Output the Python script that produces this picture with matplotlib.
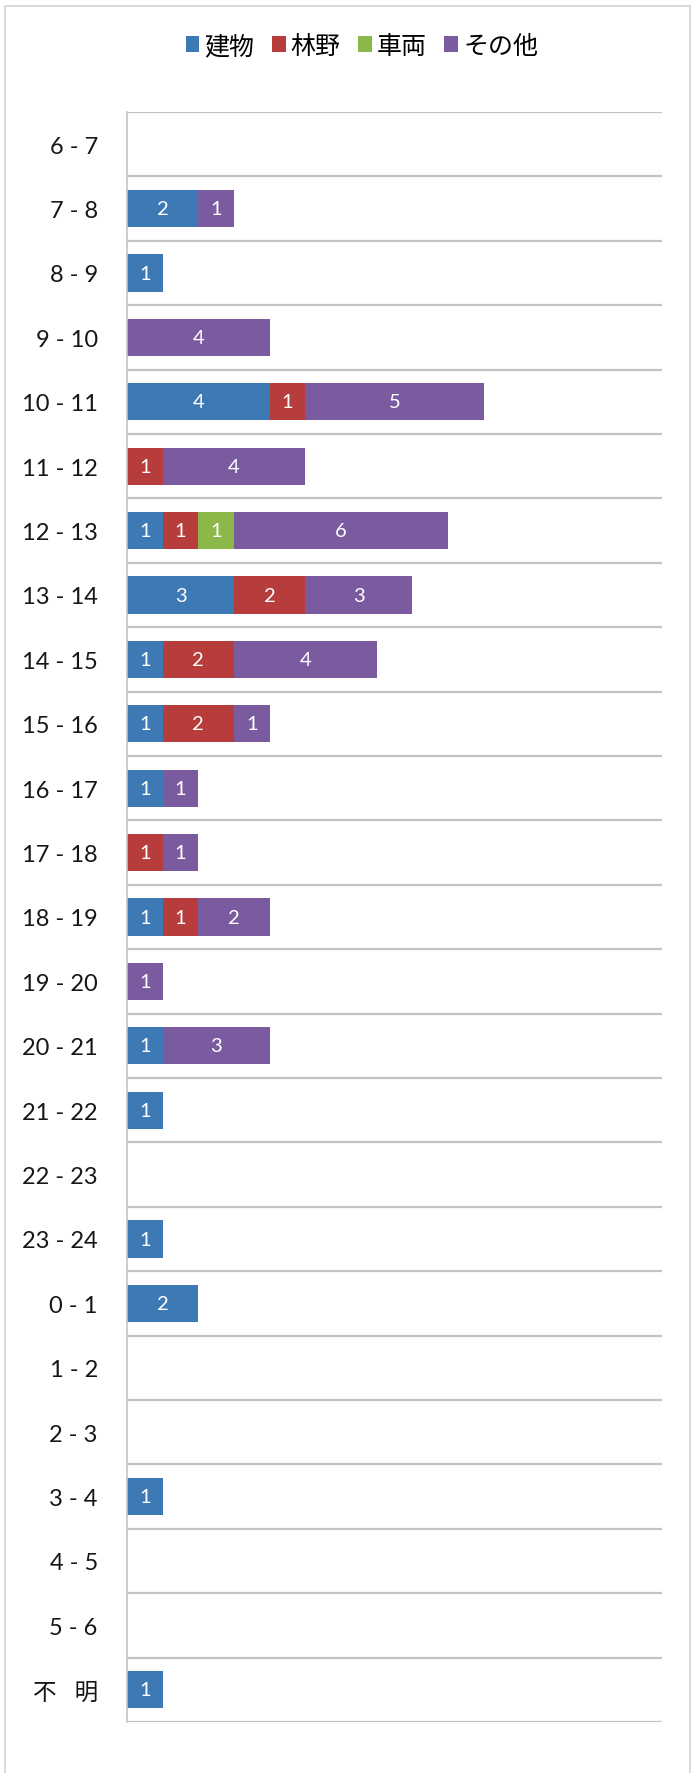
import matplotlib
matplotlib.use("Agg")
import matplotlib.pyplot as plt
from matplotlib.patches import Rectangle
import numpy as np

plt.rcParams['font.family'] = ['Lato', 'Noto Sans CJK JP', 'DejaVu Sans']

# Hour bands, top to bottom
categories = ["6 - 7", "7 - 8", "8 - 9", "9 - 10", "10 - 11", "11 - 12",
              "12 - 13", "13 - 14", "14 - 15", "15 - 16", "16 - 17", "17 - 18",
              "18 - 19", "19 - 20", "20 - 21", "21 - 22", "22 - 23", "23 - 24",
              "0 - 1", "1 - 2", "2 - 3", "3 - 4", "4 - 5", "5 - 6", "不   明"]

series_names = ["建物", "林野", "車両", "その他"]
building = [0, 2, 1, 0, 4, 0, 1, 3, 1, 1, 1, 0, 1, 0, 1, 1, 0, 1, 2, 0, 0, 1, 0, 0, 1]
forest   = [0, 0, 0, 0, 1, 1, 1, 2, 2, 2, 0, 1, 1, 0, 0, 0, 0, 0, 0, 0, 0, 0, 0, 0, 0]
vehicle  = [0, 0, 0, 0, 0, 0, 1, 0, 0, 0, 0, 0, 0, 0, 0, 0, 0, 0, 0, 0, 0, 0, 0, 0, 0]
other    = [0, 1, 0, 4, 5, 4, 6, 3, 4, 1, 1, 1, 2, 1, 3, 0, 0, 0, 0, 0, 0, 0, 0, 0, 0]

colors = ["#3D79B4", "#B73D3D", "#8CB84A", "#7A5B9F"]
series = [building, forest, vehicle, other]

W, H = 700, 1774
fig = plt.figure(figsize=(W / 100, H / 100), dpi=100)
fig.patch.set_facecolor("white")

# outer chart frame
fig.add_artist(Rectangle((5 / W, -0.01), 685 / W, 1.01 - 7 / H,
                         transform=fig.transFigure, fill=False,
                         edgecolor="#D2D2D2", linewidth=1.2))

ax = fig.add_axes([127 / W, 1 - 1723 / H, 535 / W, (1723 - 113) / H])
n = len(categories)
y = np.arange(n)
left = np.zeros(n)
for name, vals, col in zip(series_names, series, colors):
    vals = np.array(vals, dtype=float)
    ax.barh(y, vals, left=left, height=0.58, color=col, label=name,
            edgecolor="none")
    for yi, (l, v) in enumerate(zip(left, vals)):
        if v > 0:
            ax.text(l + v / 2, yi, f"{int(v)}", ha="center", va="center",
                    color="white", fontsize=14.5)
    left += vals

ax.set_xlim(0, 15)
ax.set_ylim(n - 0.5, -0.5)
ax.set_yticks(y)
ax.set_yticklabels(categories, fontsize=17, color="#161616")
ax.tick_params(axis="y", length=0, pad=21)
ax.set_xticks([])

# horizontal separators between categories
for b in np.arange(-0.5, n, 1.0):
    ax.axhline(b, color="#C4C4C4", linewidth=1.6, zorder=0)

for s in ["top", "right", "bottom"]:
    ax.spines[s].set_visible(False)
ax.spines["left"].set_color("#C4C4C4")
ax.spines["left"].set_linewidth(1.2)

handles, labels = ax.get_legend_handles_labels()
fig.legend(handles, labels, loc="center", bbox_to_anchor=(0.517, 1 - 46 / H),
           ncol=4, frameon=False, fontsize=18, handlelength=0.55,
           handleheight=0.55, handletextpad=0.2, columnspacing=0.7)

fig.savefig("out.png", dpi=100, facecolor="white")
